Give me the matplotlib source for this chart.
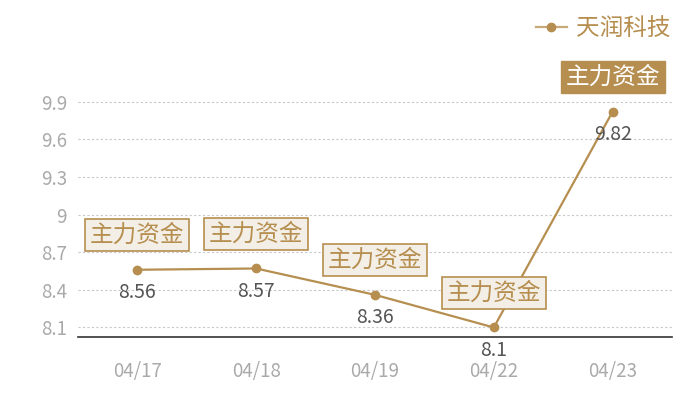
import matplotlib
matplotlib.use("Agg")
import matplotlib.pyplot as plt

plt.rcParams['font.family'] = ['Noto Sans CJK SC', 'DejaVu Sans']

dates = ["04/17", "04/18", "04/19", "04/22", "04/23"]
values = [8.56, 8.57, 8.36, 8.1, 9.82]
yticks = [8.1, 8.4, 8.7, 9.0, 9.3, 9.6, 9.9]
ytick_labels = ["8.1", "8.4", "8.7", "9", "9.3", "9.6", "9.9"]
series_name = "天润科技"
tag = "主力资金"

gold = "#b68f50"
fig = plt.figure(figsize=(7, 4), dpi=100)
ax = fig.add_axes([78/700, 1-337/400, (672-78)/700, (337-64)/400])

x = list(range(len(dates)))
ax.plot(x, values, color=gold, lw=1.6, marker='o', ms=6, label=series_name, zorder=3)
ax.set_xlim(-0.5, len(dates)-0.5)
ax.set_ylim(8.024, 10.2)
ax.set_yticks(yticks)
ax.set_yticklabels(ytick_labels)
ax.set_xticks(x)
ax.set_xticklabels(dates)
ax.grid(axis='y', color='#c8c8c8', ls=(0, (2, 2)), lw=0.8)
ax.set_axisbelow(True)
for s in ['top', 'right', 'left']:
    ax.spines[s].set_visible(False)
ax.spines['bottom'].set_color('#333333')
ax.spines['bottom'].set_linewidth(1.2)
ax.tick_params(axis='both', length=0, colors='#aaaaaa', labelsize=13.5)
ax.tick_params(axis='x', pad=17)
ax.tick_params(axis='y', pad=8)

for i, v in enumerate(values):
    ax.annotate(f"{v:g}", (i, v), xytext=(0, -16.5), textcoords='offset points',
                ha='center', va='center', fontsize=14, color='#555555', zorder=4)
    last = i == len(values) - 1
    if last:
        bbox = dict(boxstyle='square,pad=0.2', fc=gold, ec=gold, lw=1)
        tc = 'white'
    else:
        bbox = dict(boxstyle='square,pad=0.2', fc='#f3eee6', ec=gold, lw=1.2)
        tc = gold
    ax.annotate(tag, (i, v), xytext=(0, 25), textcoords='offset points',
                ha='center', va='center', fontsize=17, color=tc, bbox=bbox, zorder=5)

leg = fig.legend(loc='upper right', bbox_to_anchor=(692/700, 1.01), frameon=False,
                 fontsize=17, handlelength=1.3, handletextpad=0.4, labelcolor=gold)
for h in leg.legend_handles:
    h.set_color('#c9a878')
    h.set_markerfacecolor(gold)
    h.set_markeredgecolor(gold)

fig.savefig("out.png", dpi=100, facecolor='white')
